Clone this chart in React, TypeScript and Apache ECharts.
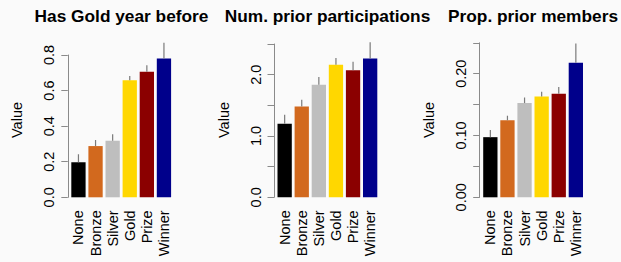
import React, { useEffect, useRef } from 'react';
import * as echarts from 'echarts';

const categories = ['None', 'Bronze', 'Silver', 'Gold', 'Prize', 'Winner'];
const barColors = ['#000000', '#D2691E', '#BEBEBE', '#FFD700', '#8B0000', '#00008B'];
const titles = ['Has Gold year before', 'Num. prior participations', 'Prop. prior members'];

const goldValues = [0.197, 0.288, 0.318, 0.658, 0.706, 0.781];
const goldUpper = [0.242, 0.322, 0.354, 0.682, 0.742, 0.869];
const partValues = [1.198, 1.48, 1.835, 2.16, 2.07, 2.265];
const partUpper = [1.345, 1.59, 1.96, 2.27, 2.21, 2.53];
const membValues = [0.0973, 0.1246, 0.1525, 0.163, 0.1674, 0.2177];
const membUpper = [0.109, 0.132, 0.1615, 0.1706, 0.1786, 0.2488];

const yMax = [0.8, 2.5, 0.25];
const yInterval = [0.2, 0.5, 0.05];
const labeledTicks = [
  ['0.0', '0.2', '0.4', '0.6', '0.8'],
  ['0.0', '1.0', '2.0'],
  ['0.00', '0.10', '0.20'],
];
const decimals = [1, 1, 2];

const FONT = '"Liberation Sans", Arial, Helvetica, sans-serif';
const AXIS_COLOR = '#8a8a8a';

export default function App() {
  const ref = useRef<HTMLDivElement>(null);

  useEffect(() => {
    if (!ref.current) return;
    const chart = echarts.init(ref.current, undefined, { renderer: 'svg' });

    const values = [goldValues, partValues, membValues];
    const uppers = [goldUpper, partUpper, membUpper];
    const axisX = [67.8, 274, 479.7];
    const tops = [55, 44, 42.8];
    const titleX = [121.5, 327.5, 533];
    const bottomY = 197.3;

    const grids: any[] = [];
    const xAxes: any[] = [];
    const yAxes: any[] = [];
    const series: any[] = [];
    const graphics: any[] = [];

    for (let p = 0; p < 3; p++) {
      grids.push({
        left: axisX[p] + 2.1,
        width: 102.6,
        top: tops[p],
        height: bottomY - tops[p],
        containLabel: false,
      });
      xAxes.push({
        type: 'category',
        gridIndex: p,
        data: categories,
        axisLine: { show: false },
        axisTick: { show: false },
        axisLabel: {
          rotate: 90,
          margin: 13,
          fontSize: 14.5,
          color: '#000',
          fontFamily: FONT,
          interval: 0,
        },
      });
      const dec = decimals[p];
      const lbls = labeledTicks[p];
      yAxes.push({
        type: 'value',
        gridIndex: p,
        min: 0,
        max: yMax[p],
        interval: yInterval[p],
        offset: 2.1,
        splitLine: { show: false },
        axisLine: { show: true, lineStyle: { color: AXIS_COLOR, width: 1 } },
        axisTick: { show: true, length: 6.5, lineStyle: { color: AXIS_COLOR, width: 1 } },
        axisLabel: {
          rotate: 90,
          margin: 11,
          fontSize: 14.5,
          color: '#000',
          fontFamily: FONT,
          formatter: (v: number) => {
            const s = v.toFixed(dec);
            return lbls.indexOf(s) >= 0 ? s : '';
          },
        },
      });
      series.push({
        type: 'bar',
        xAxisIndex: p,
        yAxisIndex: p,
        barCategoryGap: '16.4%',
        data: values[p].map((v, i) => ({ value: v, itemStyle: { color: barColors[i] } })),
      });
      series.push({
        type: 'custom',
        xAxisIndex: p,
        yAxisIndex: p,
        clip: false,
        z: 3,
        encode: { x: 0, y: [1, 2] },
        data: values[p].map((v, i) => [i, v, uppers[p][i]]),
        renderItem: (params: any, api: any) => {
          const i = api.value(0);
          const a = api.coord([i, api.value(1)]);
          const b = api.coord([i, api.value(2)]);
          return {
            type: 'line',
            shape: { x1: a[0], y1: a[1], x2: b[0], y2: b[1] },
            style: { stroke: '#7a7a7a', lineWidth: 1.2 },
          };
        },
      });
      graphics.push({
        type: 'text',
        x: titleX[p],
        y: 16,
        style: {
          text: titles[p],
          font: `bold 17.3px ${FONT}`,
          fill: '#000',
          textAlign: 'center',
          textVerticalAlign: 'middle',
        },
      });
      graphics.push({
        type: 'text',
        x: axisX[p] - 50.5,
        y: 120,
        rotation: Math.PI / 2,
        style: {
          text: 'Value',
          font: `14.5px ${FONT}`,
          fill: '#000',
          textAlign: 'center',
          textVerticalAlign: 'middle',
        },
      });
    }

    chart.setOption({
      animation: false,
      backgroundColor: '#fafafa',
      grid: grids,
      xAxis: xAxes,
      yAxis: yAxes,
      series,
      graphic: graphics,
    });

    return () => chart.dispose();
  }, []);

  return (
    <div
      ref={ref}
      style={{ position: 'absolute', left: 0, top: 0, width: 621, height: 262 }}
    />
  );
}
